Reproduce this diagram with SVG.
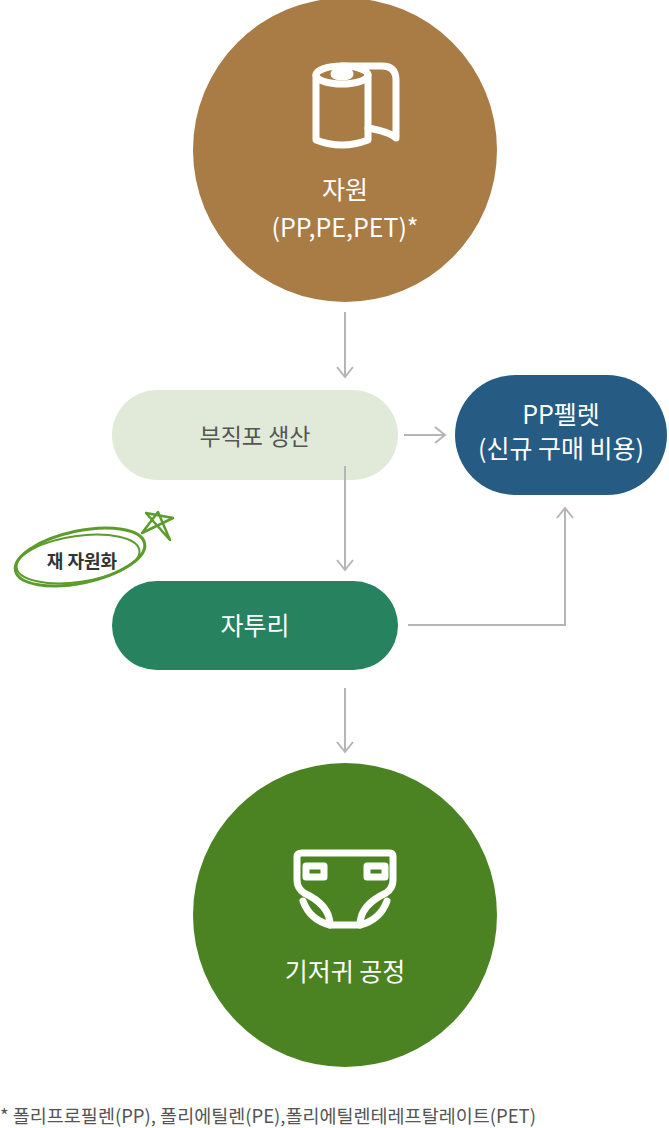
<svg xmlns="http://www.w3.org/2000/svg" width="669" height="1128" viewBox="0 0 669 1128">
<style>
text{font-family:"Noto Sans CJK KR","Noto Sans",sans-serif;text-anchor:middle}
.w{fill:#fff;font-size:25px}
.c{stroke:#b5b5b5;stroke-width:2;fill:none}
.ic{stroke:#fff;stroke-width:7;fill:none;stroke-linecap:round;stroke-linejoin:round}
</style>
<defs><marker id="a" viewBox="0 0 20 20" refX="18" refY="10" markerWidth="20" markerHeight="20" markerUnits="userSpaceOnUse" orient="auto"><path d="M8,2 L18,10 L8,18" fill="none" stroke="#b5b5b5" stroke-width="2"/></marker></defs>
<g id="resource">
<circle cx="345" cy="150" r="152" fill="#a97b45"/>
<g class="ic">
<ellipse cx="342" cy="75" rx="26" ry="9"/>
<path d="M316,75 V140 Q342,150 368,140 V75"/>
<path d="M342,66 H382 Q396,66 396,80 V138 Q390,132 368,128"/>
<ellipse cx="342" cy="74" rx="8" ry="3" fill="#fff"/>
</g>
<text class="w" x="345" y="199">자원</text>
<text class="w" x="345" y="237">(PP,PE,PET)*</text>
</g>
<g id="nonwoven"><rect x="112" y="390" width="286" height="90" rx="45" fill="#e1ead9"/><text x="255" y="445" font-size="23" fill="#555">부직포 생산</text></g>
<g id="pellet"><rect x="455" y="375" width="212" height="120" rx="60" fill="#265b83"/><text class="w" x="561" y="424" font-size="21">PP펠렛</text><text class="w" x="561" y="458" font-size="18.5">(신규 구매 비용)</text></g>
<g id="scrap"><rect x="112" y="581" width="286" height="89" rx="44.5" fill="#27835f"/><text class="w" x="255" y="635" font-size="24">자투리</text></g>
<g id="recycle">
<ellipse cx="80" cy="557" rx="66" ry="26" transform="rotate(-12 80 557)" fill="none" stroke="#5c9c2c" stroke-width="3"/>
<ellipse cx="78" cy="559" rx="62" ry="23" transform="rotate(-8 78 559)" fill="none" stroke="#5c9c2c" stroke-width="2"/>
<path d="M146,513 L170,540 L158,512 L142,533 L173,518 Z" fill="none" stroke="#5c9c2c" stroke-width="2.5" stroke-linejoin="round"/>
<text x="82" y="568" font-size="18" fill="#333" font-weight="bold">재 자원화</text>
</g>
<g id="diaper">
<circle cx="345" cy="915" r="152" fill="#4b8322"/>
<g class="ic">
<path d="M302,853 H390 Q393,853 393,857 V880 Q393,888 386,893 Q360,905 360,925 H330 Q330,905 304,893 Q297,888 297,880 V857 Q297,853 302,853 Z"/>
<rect x="306" y="866" width="18" height="11"/>
<rect x="367" y="866" width="18" height="11"/>
<path d="M303,901 Q310,920 330,925 M387,901 Q380,920 360,925"/>
</g>
<text class="w" x="345" y="981">기저귀 공정</text>
</g>
<g id="connectors">
<line class="c" x1="345" y1="312" x2="345" y2="377" marker-end="url(#a)"/>
<line class="c" x1="404" y1="435" x2="445" y2="435" marker-end="url(#a)"/>
<line class="c" x1="345" y1="466" x2="345" y2="570" marker-end="url(#a)"/>
<polyline class="c" points="408,625 565,625 565,508" marker-end="url(#a)"/>
<line class="c" x1="345" y1="688" x2="345" y2="752" marker-end="url(#a)"/>
</g>
<text x="0" y="1123" font-size="18.5" fill="#555" style="text-anchor:start">* 폴리프로필렌(PP), 폴리에틸렌(PE),폴리에틸렌테레프탈레이트(PET)</text>
</svg>
